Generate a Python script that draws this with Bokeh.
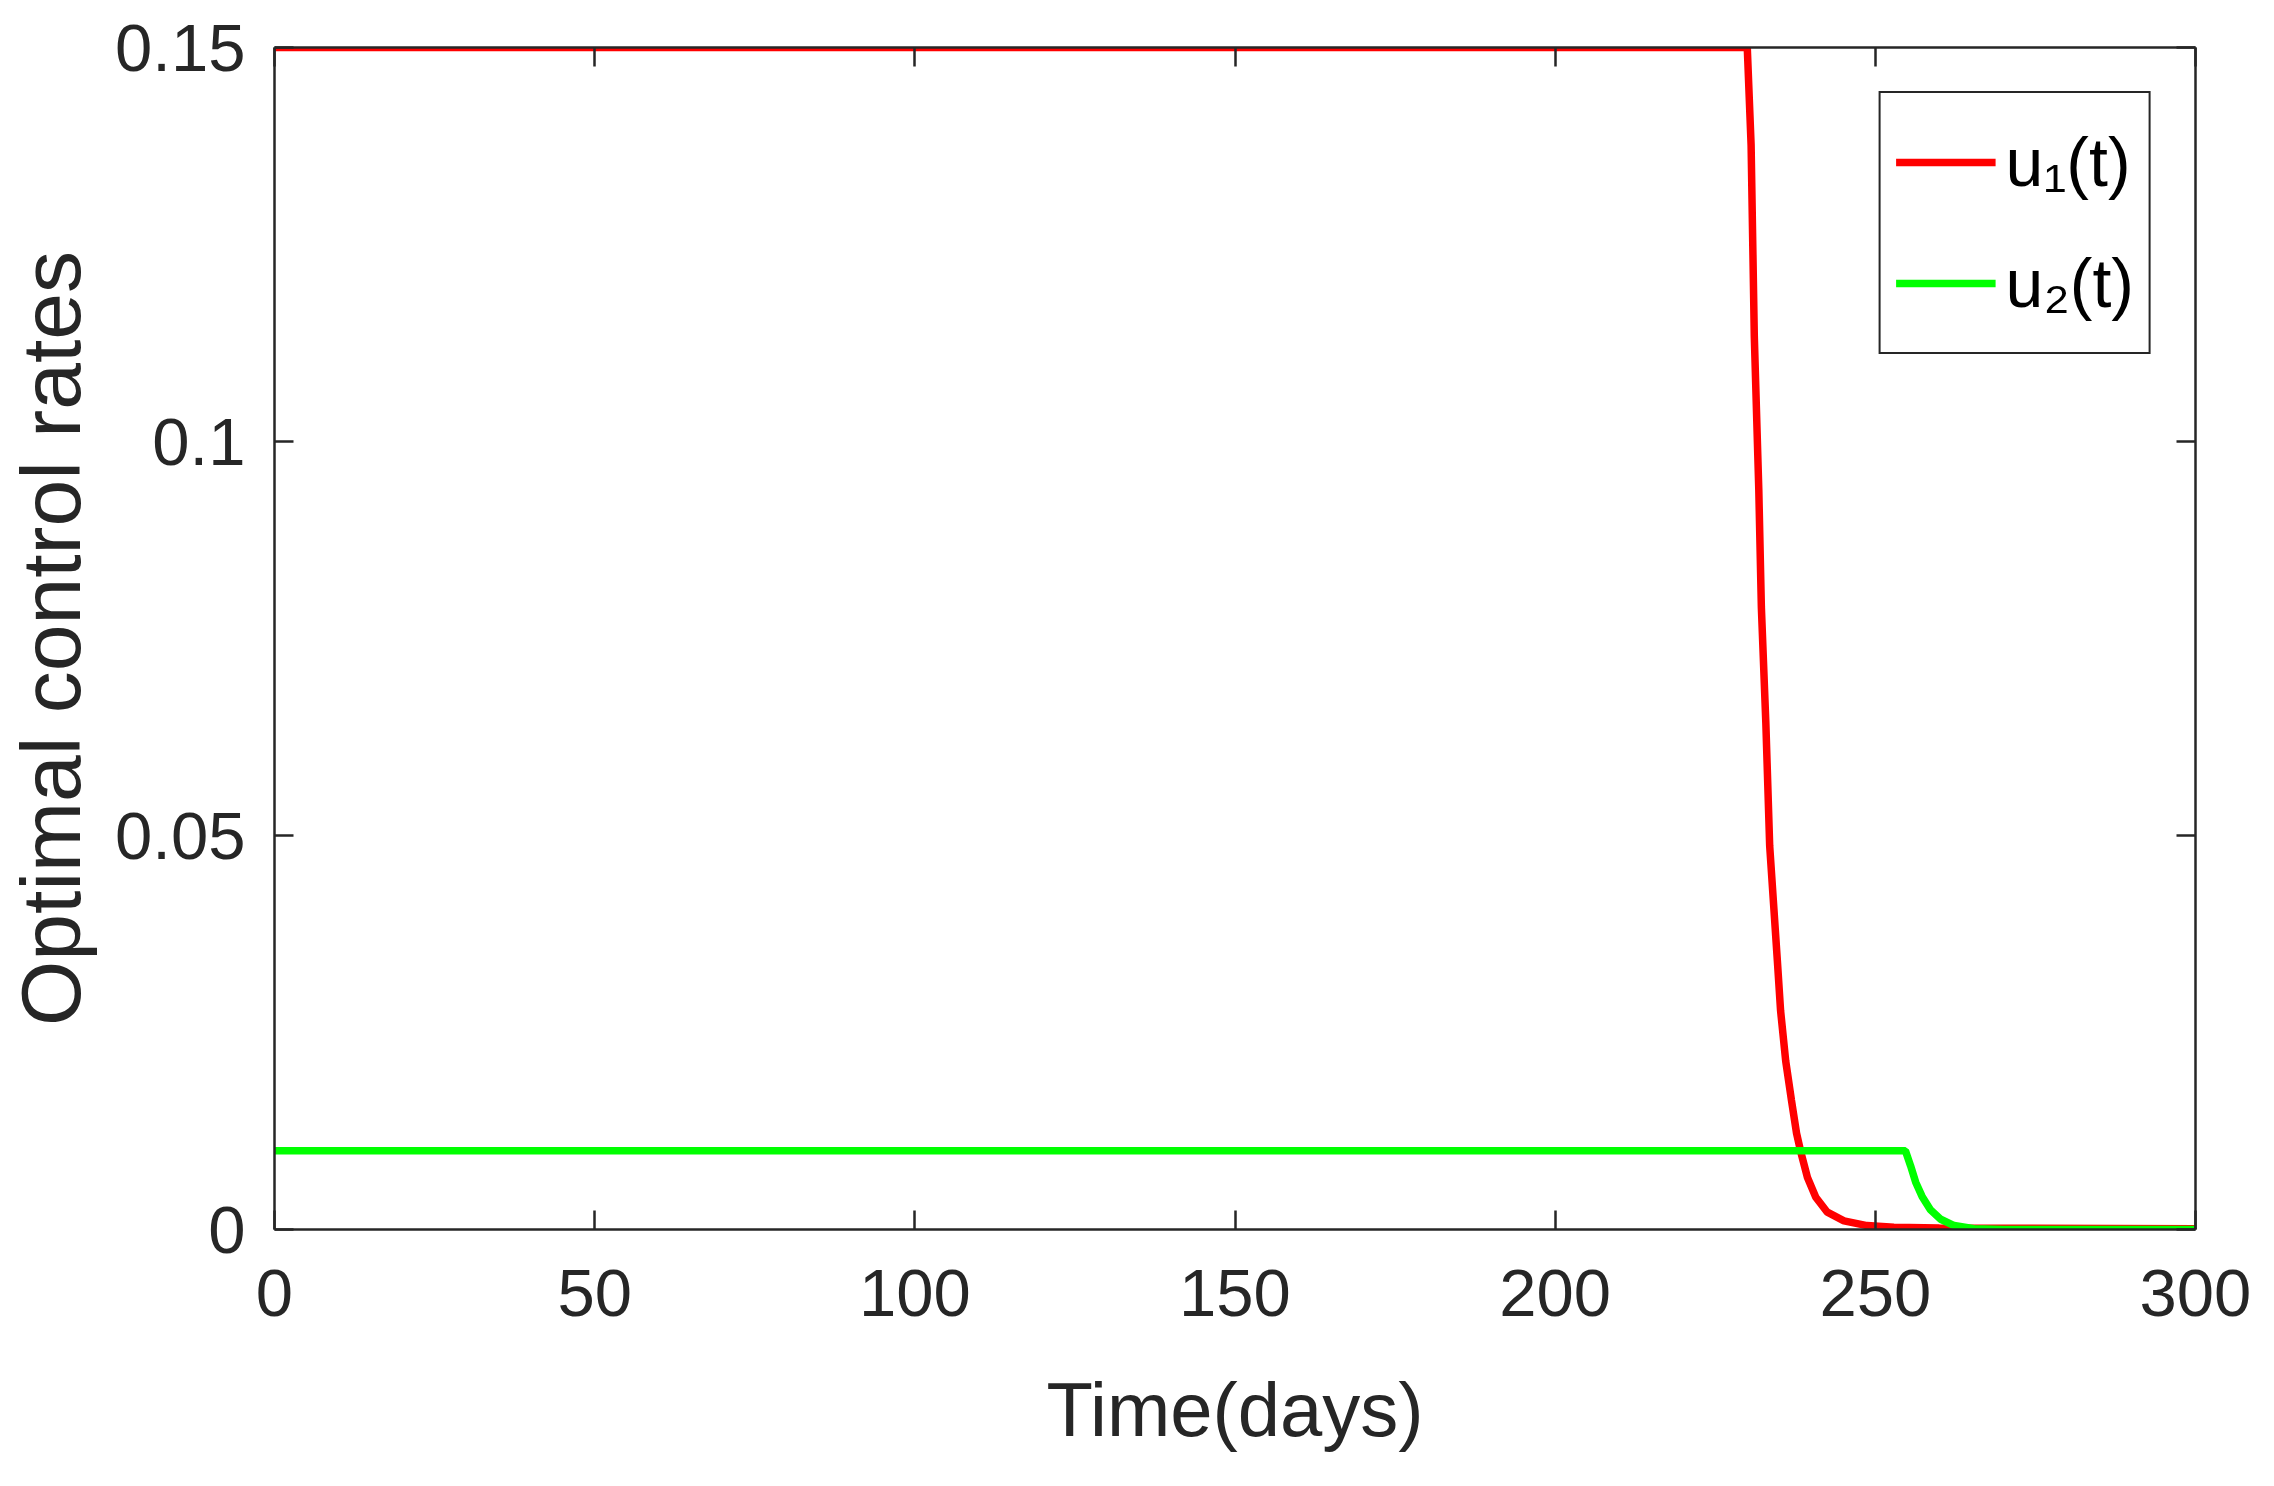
from bokeh.plotting import figure
from bokeh.models import (LinearAxis, FixedTicker, Legend, LegendItem, Range1d,
                          CustomLabelingPolicy)
from bokeh.embed import file_html
from bokeh.resources import INLINE

# ---- data ----
u1_t = [0, 230.0, 230.6, 231.1, 231.8, 232.2, 232.9, 233.5, 234.7, 235.2, 236.0,
        236.9, 237.7, 238.4, 239.4, 240.7, 242.5, 245.1, 248.7, 252.9, 260.0, 300]
u1_v = [0.15, 0.15, 0.1376, 0.1133, 0.0939, 0.0790, 0.0643, 0.0487, 0.0341, 0.0278,
        0.0214, 0.0164, 0.0122, 0.0097, 0.0066, 0.0041, 0.0022, 0.0011, 0.0005,
        0.0003, 0.0002, 0.0001]
u2_t = [0, 254.7, 255.5, 256.3, 257.3, 258.6, 260.2, 262.3, 265.4, 270.0, 300]
u2_v = [0.01, 0.01, 0.0081, 0.0060, 0.0042, 0.0025, 0.0013, 0.0005, 0.0001, 0.0, 0.0]

x_ticks = [0, 50, 100, 150, 200, 250, 300]
y_ticks = [0, 0.05, 0.1, 0.15]
y_tick_labels = ["0", "0.05", "0.1", "0.15"]
series_labels = ["u\u2081(t)", "u\u2082(t)"]
x_label = "Time(days)"
y_label = "Optimal control rates"

AX = "#262626"
FONT = "Liberation Sans"

p = figure(frame_width=1921, frame_height=1182,
           x_range=Range1d(0, 300), y_range=Range1d(0, 0.15),
           output_backend="svg", toolbar_location=None,
           min_border_left=274, min_border_right=77,
           min_border_top=47, min_border_bottom=255,
           background_fill_color="white", border_fill_color="white",
           x_axis_label=x_label, y_axis_label=y_label)
p.xgrid.visible = False
p.ygrid.visible = False
p.outline_line_color = None

r1 = p.line(u1_t, u1_v, line_color="#ff0000", line_width=7.5)
r2 = p.line(u2_t, u2_v, line_color="#00ff00", line_width=7.5)

def style(ax, ticks):
    ax.ticker = FixedTicker(ticks=ticks)
    ax.axis_line_color = AX
    ax.axis_line_width = 2.5
    ax.major_tick_line_color = AX
    ax.major_tick_line_width = 2.5
    ax.major_tick_in = 19
    ax.major_tick_out = 0
    ax.minor_tick_line_color = None
    ax.major_label_text_font = FONT
    ax.major_label_text_color = AX
    ax.axis_label_text_font = FONT
    ax.axis_label_text_color = AX
    ax.axis_label_text_font_style = "normal"

xa = p.xaxis[0]
style(xa, x_ticks)
xa.major_label_text_font_size = "67px"
xa.major_label_standoff = 40
xa.axis_label_text_font_size = "76px"
xa.axis_label_standoff = 48

ya = p.yaxis[0]
style(ya, y_ticks)
ya.major_label_overrides = {t: l for t, l in zip(y_ticks, y_tick_labels)}
ya.major_label_text_font_size = "67px"
ya.major_label_standoff = 29
ya.axis_label_text_font_size = "84px"
ya.axis_label_standoff = 14

top = LinearAxis()
style(top, x_ticks)
top.major_label_policy = CustomLabelingPolicy(code="return []")
top.major_label_standoff = 0
p.add_layout(top, "above")

right = LinearAxis()
style(right, y_ticks)
right.major_label_policy = CustomLabelingPolicy(code="return []")
right.major_label_standoff = 0
p.add_layout(right, "right")

legend = Legend(items=[LegendItem(label=series_labels[0], renderers=[r1]),
                       LegendItem(label=series_labels[1], renderers=[r2])],
                location="top_right", margin=44, padding=15, spacing=13,
                glyph_height=108, glyph_width=100, label_standoff=10,
                label_text_font=FONT, label_text_font_size="68px",
                label_text_color="#000000",
                border_line_color=AX, border_line_width=2.5, border_line_alpha=1.0,
                background_fill_color="white", background_fill_alpha=1.0)
p.add_layout(legend)

open("out.html", "w").write(file_html(p, INLINE))
